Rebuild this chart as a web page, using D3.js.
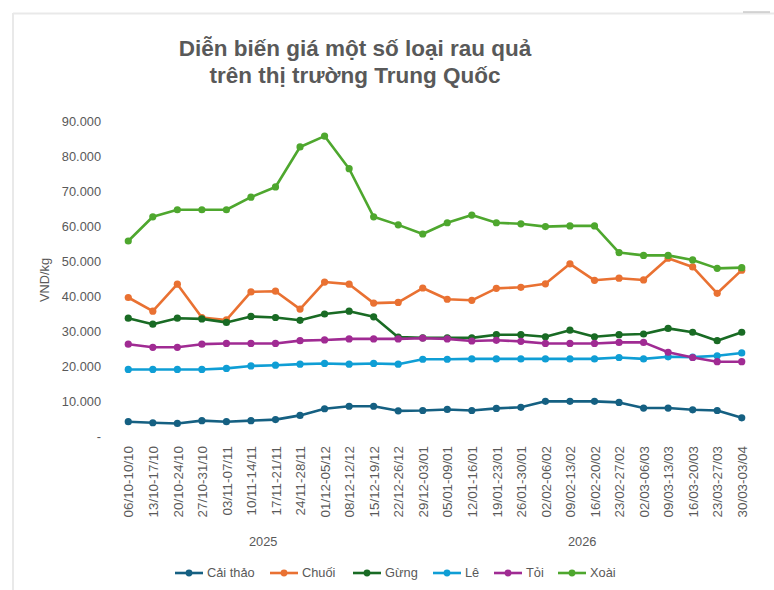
<!DOCTYPE html>
<html><head><meta charset="utf-8">
<script src="https://cdn.jsdelivr.net/npm/d3@7/dist/d3.min.js"></script>
<style>body{margin:0;background:#fff}svg{display:block;font-family:"Liberation Sans",Arial,sans-serif}</style>
</head><body><svg id="c" width="774" height="590"></svg>
<script>
const categories = ["06/10-10/10","13/10-17/10","20/10-24/10","27/10-31/10","03/11-07/11","10/11-14/11","17/11-21/11","24/11-28/11","01/12-05/12","08/12-12/12","15/12-19/12","22/12-26/12","29/12-03/01","05/01-09/01","12/01-16/01","19/01-23/01","26/01-30/01","02/02-06/02","09/02-13/02","16/02-20/02","23/02-27/02","02/03-06/03","09/03-13/03","16/03-20/03","23/03-27/03","30/03-03/04"];
const years = [{label:"2025", from:0, to:11},{label:"2026", from:12, to:25}];
const caiThao = [4300,4000,3800,4600,4300,4600,4900,6100,8000,8700,8700,7400,7500,7800,7500,8100,8400,10100,10100,10100,9800,8200,8200,7700,7500,5400];
const chuoi = [39700,35800,43500,34000,33300,41300,41500,36400,44100,43500,38100,38300,42400,39200,38900,42300,42600,43600,49300,44600,45200,44700,50900,48400,40900,47500];
const gung = [33800,32100,33800,33600,32600,34300,34000,33200,35000,35800,34200,28400,28200,28200,28200,29100,29100,28500,30400,28500,29100,29300,30900,29800,27400,29800];
const le = [19200,19200,19200,19200,19500,20200,20400,20700,20900,20700,20900,20700,22100,22100,22200,22200,22200,22200,22200,22200,22600,22200,22800,22700,23100,23900];
const toi = [26400,25500,25500,26400,26600,26600,26600,27400,27600,27900,27900,27900,28100,27900,27300,27500,27200,26600,26600,26600,26900,26900,24100,22600,21400,21400];
const xoai = [55800,62700,64700,64700,64700,68300,71200,82600,85700,76400,62700,60400,57800,61000,63200,61000,60700,59900,60100,60100,52500,51700,51700,50400,48000,48200];
const yTicks = [0,10000,20000,30000,40000,50000,60000,70000,80000,90000];
const seriesNames = ["Cải thảo","Chuối","Gừng","Lê","Tỏi","Xoài"];
const seriesValues = [caiThao, chuoi, gung, le, toi, xoai];
const colors = ["#156082","#E97132","#196B24","#0F9ED5","#A02B93","#4EA72E"];

const svg = d3.select("#c");
const txt = "#595959";
const fs = 12.8;
// chart frame edges
svg.append("line").attr("x1",13).attr("x2",13).attr("y1",13).attr("y2",590).attr("stroke","#e9e9e9").attr("stroke-width",2);
svg.append("line").attr("x1",13).attr("x2",774).attr("y1",13.5).attr("y2",13.5).attr("stroke","#e9e9e9").attr("stroke-width",2);
svg.append("line").attr("x1",743).attr("x2",770).attr("y1",12).attr("y2",12).attr("stroke","#b0b0b0").attr("stroke-width",1);

// title
const title = svg.append("text").attr("text-anchor","middle").attr("fill",txt).attr("font-weight","bold").attr("font-size",22.5);
title.append("tspan").attr("x",355).attr("y",56).text("Diễn biến giá một số loại rau quả");
title.append("tspan").attr("x",355).attr("y",83).text("trên thị trường Trung Quốc");

const x = d3.scalePoint().domain(categories).range([116,754]).padding(0.5);
const y = d3.scaleLinear().domain([0,90000]).range([436.8,121]);

const fmt = v => v === 0 ? "-" : d3.format(",")(v).replace(/,/g,".");

// y axis
const ya = svg.append("g").attr("transform","translate(101,0)")
  .call(d3.axisLeft(y).tickValues(yTicks).tickFormat(fmt).tickSize(0).tickPadding(0));
ya.select(".domain").remove();
ya.selectAll("text").attr("fill",txt).attr("font-size",fs).attr("font-family","Liberation Sans, Arial, sans-serif");

svg.append("text").attr("transform","translate(49,280) rotate(-90)").attr("text-anchor","middle")
  .attr("fill",txt).attr("font-size",fs).text("VND/kg");

// x axis
const xa = svg.append("g").attr("transform","translate(0,446)")
  .call(d3.axisBottom(x).tickSize(0).tickPadding(0));
xa.select(".domain").remove();
xa.selectAll("text").attr("fill",txt).attr("font-size",13.4).attr("font-family","Liberation Sans, Arial, sans-serif")
  .attr("text-anchor","end").attr("transform","rotate(-90)").attr("x",0).attr("y",0).attr("dy","0.35em");

svg.selectAll(".year").data(years).enter().append("text").attr("class","year")
  .attr("x",d => (x(categories[d.from]) + x(categories[d.to]))/2).attr("y",546)
  .attr("text-anchor","middle").attr("fill",txt).attr("font-size",fs).text(d => d.label);

// series
const line = d3.line().x((d,i) => x(categories[i])).y(d => y(d));
seriesValues.forEach((vals, si) => {
  const g = svg.append("g");
  g.append("path").datum(vals).attr("d", line).attr("fill","none").attr("stroke",colors[si])
    .attr("stroke-width",2.6).attr("stroke-linejoin","round");
  g.selectAll("circle").data(vals).enter().append("circle")
    .attr("cx",(d,i) => x(categories[i])).attr("cy",d => y(d)).attr("r",3.6).attr("fill",colors[si]);
});

// legend
const legX = [175, 270, 353, 433, 494, 558];
seriesNames.forEach((n, i) => {
  const g = svg.append("g").attr("transform",`translate(${legX[i]},573)`);
  g.append("line").attr("x1",0).attr("x2",28).attr("stroke",colors[i]).attr("stroke-width",2.6);
  g.append("circle").attr("cx",14).attr("r",3.4).attr("fill",colors[i]);
  g.append("text").attr("x",32).attr("dy","0.35em").attr("fill",txt).attr("font-size",fs).text(n);
});
</script></body></html>
